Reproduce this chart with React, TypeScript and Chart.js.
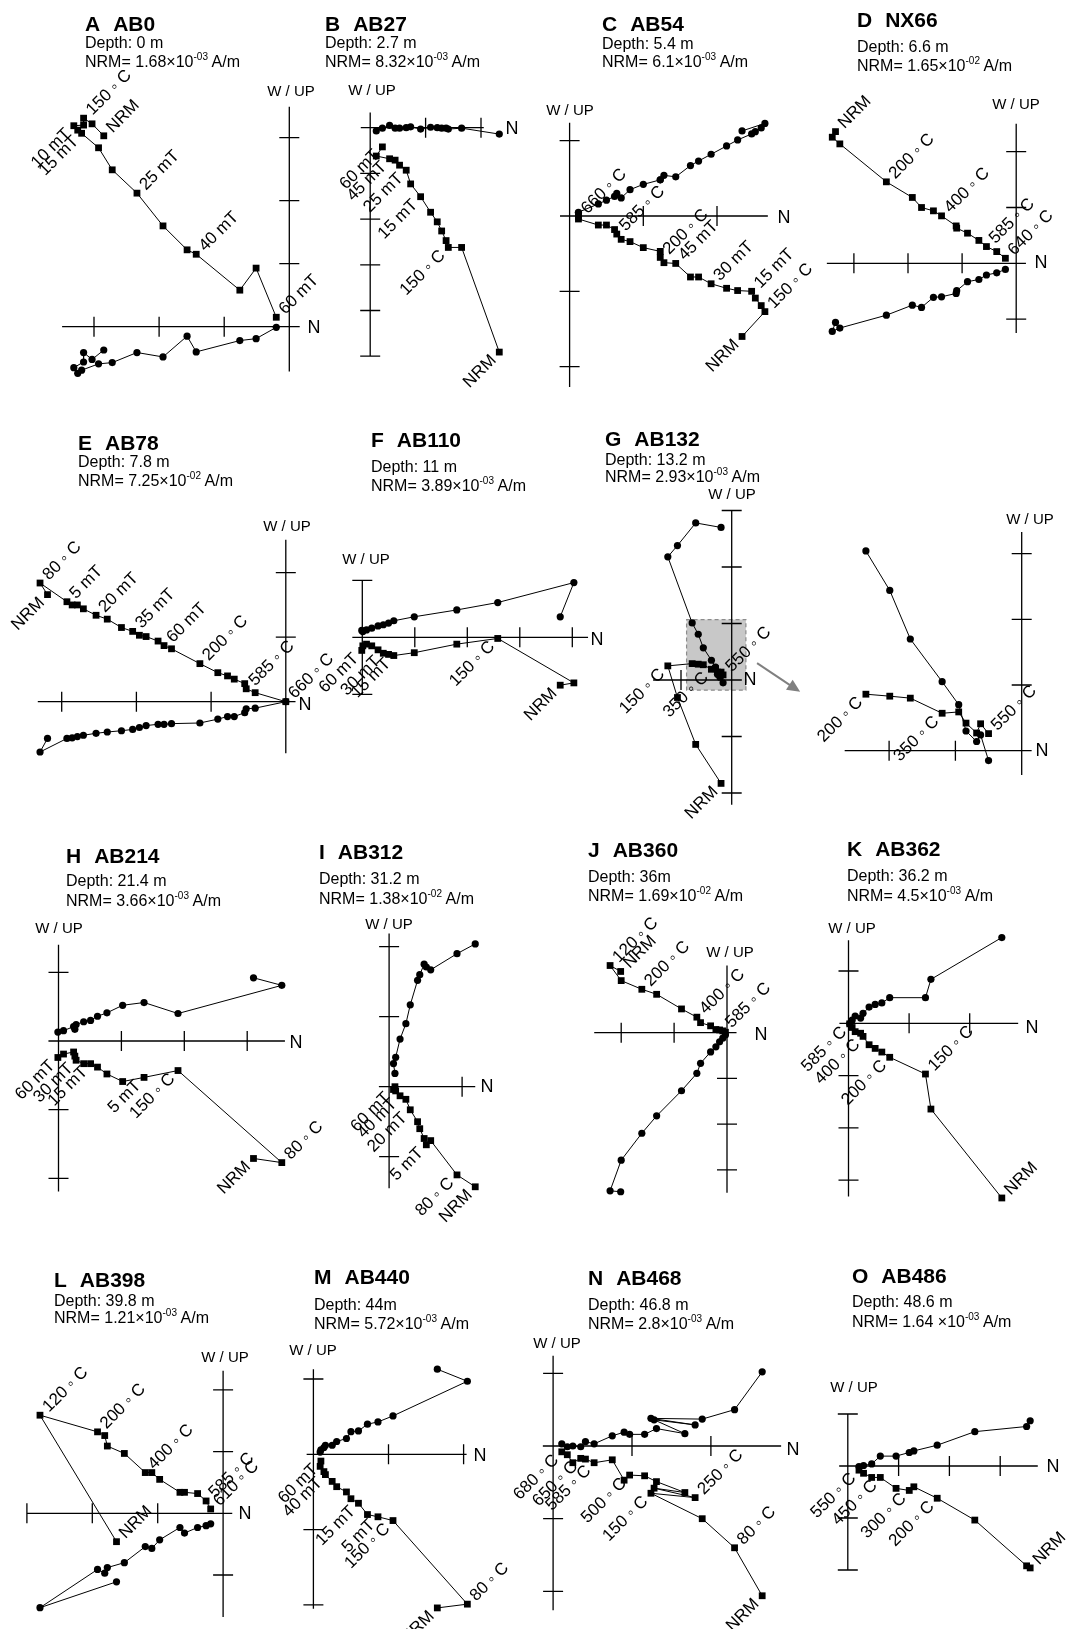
import React, { useEffect, useRef } from "react";
import { Chart, registerables } from "chart.js";

Chart.register(...registerables);

const FONT = '"Liberation Sans", Arial, Helvetica, sans-serif';
const DG = "\u25E6";
type Lbl = [number, string, string];

// ---------- data (tick units; N = north component shared by both projections,
// UP = vertical projection (squares), W = horizontal projection (circles)) ----------
const A_N = [-2.85, -3.03, -3.16, -3.16, -3.31, -3.25, -3.19, -2.93, -2.72, -2.34, -1.94, -1.57, -1.43, -0.76, -0.51, -0.2];
const A_UP = [3.03, 3.22, 3.31, 3.2, 3.19, 3.12, 3.07, 2.84, 2.49, 2.12, 1.6, 1.22, 1.15, 0.58, 0.93, 0.15];
const A_W = [-0.37, -0.52, -0.41, -0.56, -0.65, -0.74, -0.69, -0.59, -0.57, -0.41, -0.48, -0.15, -0.4, -0.22, -0.19, -0.01];
const A_LBL: Lbl[] = [[0, "NRM", "s"], [2, `150 ${DG} C`, "s"], [4, "10 mT", "e"], [6, "15 mT", "e"], [9, "25 mT", "s"], [12, "40 mT", "s"], [15, "60 mT", "s"]];

const B_N = [2.33, 1.65, 1.41, 1.37, 1.29, 1.21, 1.09, 0.91, 0.73, 0.65, 0.53, 0.45, 0.35, 0.11, 0.22];
const B_UP = [-4.91, -2.62, -2.62, -2.47, -2.26, -2.06, -1.85, -1.51, -1.23, -0.93, -0.82, -0.71, -0.68, -0.62, -0.42];
const B_W = [-0.14, -0.01, -0.03, -0.01, -0.01, 0.0, 0.01, -0.03, 0.02, 0.0, -0.01, -0.01, 0.05, -0.07, -0.01];
const B_LBL: Lbl[] = [[0, "NRM", "e"], [2, `150 ${DG} C`, "e"], [7, "15 mT", "e"], [9, "25 mT", "e"], [12, "45 mT", "e"], [14, "60 mT", "e"]];

const C_N = [2.34, 2.65, 2.6, 2.52, 2.47, 2.28, 2.13, 1.92, 1.75, 1.64, 1.44, 1.28, 1.23, 1.23, 1.0, 0.82, 0.7, 0.64, 0.61, 0.5, 0.39, 0.12, 0.12];
const C_UP = [-1.6, -1.27, -1.19, -1.09, -1.0, -0.99, -0.96, -0.9, -0.81, -0.81, -0.63, -0.62, -0.55, -0.47, -0.42, -0.34, -0.31, -0.24, -0.18, -0.12, -0.12, -0.04, -0.01];
const C_W = [1.13, 1.23, 1.17, 1.12, 1.09, 1.01, 0.93, 0.82, 0.73, 0.67, 0.52, 0.54, 0.48, 0.48, 0.42, 0.35, 0.24, 0.3, 0.26, 0.21, 0.16, 0.05, 0.04];
const C_LBL: Lbl[] = [[0, "NRM", "e"], [1, `150 ${DG} C`, "s"], [4, "15 mT", "s"], [7, "30 mT", "s"], [10, "45 mT", "s"], [12, `200 ${DG} C`, "s"], [17, `585 ${DG} C`, "s"], [22, `660 ${DG} C`, "s"]];

const D_N = [-3.34, -3.4, -3.26, -2.4, -1.92, -1.75, -1.53, -1.38, -1.11, -1.1, -0.9, -0.69, -0.55, -0.36, -0.2];
const D_UP = [2.36, 2.26, 2.14, 1.46, 1.18, 1.0, 0.94, 0.85, 0.67, 0.63, 0.54, 0.41, 0.3, 0.21, 0.09];
const D_W = [-1.06, -1.22, -1.16, -0.93, -0.75, -0.79, -0.61, -0.6, -0.54, -0.49, -0.33, -0.29, -0.21, -0.17, -0.11];
const D_LBL: Lbl[] = [[0, "NRM", "s"], [3, `200 ${DG} C`, "s"], [7, `400 ${DG} C`, "s"], [12, `585 ${DG} C`, "s"], [14, `640 ${DG} C`, "s"]];

const E_N = [-3.19, -3.29, -2.93, -2.86, -2.79, -2.71, -2.54, -2.39, -2.2, -2.05, -1.96, -1.87, -1.71, -1.63, -1.53, -1.15, -0.91, -0.78, -0.69, -0.55, -0.53, -0.41, 0];
const E_UP = [1.66, 1.84, 1.55, 1.5, 1.5, 1.44, 1.34, 1.28, 1.15, 1.09, 1.03, 1.01, 0.94, 0.87, 0.82, 0.59, 0.45, 0.4, 0.35, 0.28, 0.2, 0.14, 0];
const E_W = [-0.57, -0.78, -0.57, -0.56, -0.54, -0.52, -0.49, -0.47, -0.45, -0.43, -0.4, -0.37, -0.35, -0.35, -0.34, -0.33, -0.27, -0.23, -0.23, -0.17, -0.11, -0.1, 0];
const E_LBL: Lbl[] = [[0, "NRM", "e"], [1, `80 ${DG} C`, "s"], [2, "5 mT", "s"], [6, "20 mT", "s"], [9, "35 mT", "s"], [13, "60 mT", "s"], [15, `200 ${DG} C`, "s"], [20, `585 ${DG} C`, "s"], [22, `660 ${DG} C`, "s"]];

const F_N = [3.77, 4.03, 2.58, 1.8, 0.99, 0.6, 0.5, 0.4, 0.3, 0.18, 0.08, 0.01, -0.01];
const F_UP = [-0.84, -0.8, -0.02, -0.12, -0.27, -0.32, -0.3, -0.28, -0.22, -0.15, -0.12, -0.15, -0.23];
const F_W = [0.36, 0.96, 0.61, 0.48, 0.36, 0.29, 0.25, 0.22, 0.2, 0.16, 0.13, 0.1, 0.12];
const F_LBL: Lbl[] = [[0, "NRM", "e"], [2, `150 ${DG} C`, "e"], [5, "15 mT", "e"], [7, "30 mT", "e"], [12, "60 mT", "e"]];

const G_N = [-0.21, -0.71, -1.07, -1.26, -0.78, -0.66, -0.56, -0.4, -0.32, -0.28, -0.23, -0.21, -0.17];
const G_UP = [-1.83, -1.14, -0.31, 0.25, 0.29, 0.28, 0.27, 0.19, 0.2, 0.14, 0.09, 0.14, 0.09];
const G_W = [2.7, 2.78, 2.38, 2.18, 1.01, 0.81, 0.57, 0.35, 0.23, 0.1, 0.05, 0.08, -0.05];
const G_LBL: Lbl[] = [[0, "NRM", "e"], [3, `150 ${DG} C`, "e"], [7, `350 ${DG} C`, "e"], [12, `550 ${DG} C`, "s"]];

const G2_N = [-2.35, -1.99, -1.68, -1.2, -0.95, -0.84, -0.68, -0.62, -0.5];
const G2_UP = [0.86, 0.83, 0.8, 0.57, 0.59, 0.42, 0.27, 0.41, 0.26];
const G2_W = [3.04, 2.44, 1.7, 1.05, 0.7, 0.3, 0.14, 0.24, -0.15];
const G2_LBL: Lbl[] = [[0, `200 ${DG} C`, "e"], [3, `350 ${DG} C`, "e"], [8, `550 ${DG} C`, "s"]];

const H_N = [3.1, 3.55, 1.9, 1.36, 1.02, 0.77, 0.62, 0.51, 0.4, 0.28, 0.26, 0.24, 0.08, -0.01];
const H_UP = [-1.71, -1.77, -0.43, -0.53, -0.59, -0.48, -0.38, -0.33, -0.33, -0.28, -0.22, -0.16, -0.19, -0.24];
const H_W = [0.92, 0.81, 0.4, 0.56, 0.52, 0.41, 0.36, 0.3, 0.28, 0.24, 0.17, 0.21, 0.15, 0.13];
const H_LBL: Lbl[] = [[0, "NRM", "e"], [1, `80 ${DG} C`, "s"], [2, `150 ${DG} C`, "e"], [3, "5 mT", "e"], [7, "15 mT", "e"], [9, "30 mT", "e"], [13, "60 mT", "e"]];

const I_N = [1.18, 0.93, 0.57, 0.51, 0.48, 0.42, 0.39, 0.29, 0.23, 0.15, 0.09, 0.06, 0.08];
const I_UP = [-1.43, -1.26, -0.77, -0.83, -0.74, -0.6, -0.5, -0.33, -0.18, -0.13, -0.06, -0.04, 0.0];
const I_W = [2.04, 1.9, 1.67, 1.71, 1.75, 1.6, 1.52, 1.17, 0.9, 0.68, 0.42, 0.33, 0.19];
const I_LBL: Lbl[] = [[0, "NRM", "e"], [1, `80 ${DG} C`, "e"], [3, "5 mT", "e"], [7, "20 mT", "e"], [9, "40 mT", "e"], [11, "60 mT", "e"]];

const J_N = [-2.01, -2.21, -2.0, -1.61, -1.33, -0.86, -0.57, -0.5, -0.31, -0.21, -0.14, -0.08, -0.03];
const J_UP = [1.34, 1.47, 1.14, 0.95, 0.84, 0.52, 0.34, 0.22, 0.15, 0.07, 0.06, 0.04, 0.01];
const J_W = [-3.48, -3.46, -2.79, -2.2, -1.82, -1.27, -0.89, -0.67, -0.42, -0.31, -0.2, -0.12, -0.05];
const J_LBL: Lbl[] = [[0, "NRM", "s"], [1, `120 ${DG} C`, "s"], [3, `200 ${DG} C`, "s"], [6, `400 ${DG} C`, "s"], [11, `585 ${DG} C`, "s"]];

const K_N = [2.53, 1.36, 1.27, 0.68, 0.55, 0.44, 0.34, 0.24, 0.2, 0.11, 0.06, 0.02];
const K_UP = [-3.34, -1.64, -0.97, -0.65, -0.55, -0.48, -0.41, -0.25, -0.19, -0.16, -0.08, -0.01];
const K_W = [1.64, 0.84, 0.49, 0.49, 0.39, 0.36, 0.31, 0.19, 0.1, 0.14, 0.06, -0.01];
const K_LBL: Lbl[] = [[0, "NRM", "s"], [2, `150 ${DG} C`, "s"], [3, `200 ${DG} C`, "e"], [7, `400 ${DG} C`, "e"], [11, `585 ${DG} C`, "e"]];

const L_N = [-1.63, -2.8, -1.92, -1.81, -1.77, -1.51, -1.19, -1.09, -0.97, -0.66, -0.59, -0.39, -0.26, -0.19];
const L_UP = [-0.46, 1.59, 1.32, 1.26, 1.09, 0.97, 0.66, 0.66, 0.55, 0.34, 0.34, 0.32, 0.2, 0.07];
const L_W = [-1.11, -1.53, -0.91, -0.97, -0.88, -0.8, -0.54, -0.57, -0.43, -0.23, -0.32, -0.23, -0.2, -0.17];
const L_LBL: Lbl[] = [[0, "NRM", "s"], [1, `120 ${DG} C`, "s"], [2, `200 ${DG} C`, "s"], [6, `400 ${DG} C`, "s"], [12, `585 ${DG} C`, "s"], [13, `610 ${DG} C`, "s"]];

const M_N = [1.65, 2.05, 1.06, 0.86, 0.72, 0.6, 0.5, 0.44, 0.31, 0.25, 0.16, 0.14, 0.09, 0.1];
const M_UP = [-2.04, -1.99, -0.88, -0.83, -0.8, -0.65, -0.59, -0.5, -0.43, -0.36, -0.27, -0.23, -0.16, -0.09];
const M_W = [1.13, 0.97, 0.51, 0.43, 0.4, 0.31, 0.3, 0.21, 0.17, 0.12, 0.12, 0.09, 0.03, 0.06];
const M_LBL: Lbl[] = [[0, "NRM", "e"], [1, `80 ${DG} C`, "s"], [2, `150 ${DG} C`, "e"], [3, "5 mT", "e"], [5, "15 mT", "e"], [10, "40 mT", "e"], [13, "60 mT", "e"]];

const N_N = [2.65, 2.3, 1.89, 1.24, 1.8, 1.28, 1.67, 1.31, 1.16, 0.97, 0.9, 0.75, 0.52, 0.41, 0.35, 0.25, 0.18, 0.11];
const N_UP = [-2.06, -1.4, -1.0, -0.65, -0.71, -0.58, -0.64, -0.49, -0.41, -0.4, -0.47, -0.19, -0.23, -0.18, -0.17, -0.23, -0.12, -0.08];
const N_W = [1.02, 0.5, 0.37, 0.38, 0.29, 0.36, 0.17, 0.24, 0.16, 0.16, 0.19, 0.14, 0.03, 0.06, -0.01, 0.0, -0.01, 0.03];
const N_LBL: Lbl[] = [[0, "NRM", "e"], [1, `80 ${DG} C`, "s"], [3, `150 ${DG} C`, "e"], [4, `250 ${DG} C`, "s"], [9, `500 ${DG} C`, "e"], [12, `585 ${DG} C`, "e"], [14, `650 ${DG} C`, "e"], [17, `680 ${DG} C`, "e"]];

const O_N = [3.59, 3.52, 2.5, 1.76, 1.3, 1.21, 0.95, 0.64, 0.47, 0.31, 0.22];
const O_UP = [-1.96, -1.92, -1.04, -0.62, -0.4, -0.47, -0.43, -0.22, -0.22, -0.14, -0.08];
const O_W = [0.87, 0.76, 0.66, 0.4, 0.29, 0.26, 0.19, 0.19, 0.04, 0.01, -0.01];
const O_LBL: Lbl[] = [[0, "NRM", "s"], [3, `200 ${DG} C`, "e"], [5, `300 ${DG} C`, "e"], [7, `450 ${DG} C`, "e"], [10, `550 ${DG} C`, "e"]];

// ---------- layout ----------
type Panel = {
  key: string; name?: string; depth?: string; nrm?: string; exp?: string;
  tl?: number; tb?: number[];
  n: number[]; up: number[]; w: number[]; lbl: Lbl[];
  o: number[]; u: number[]; ext: number[]; tx: number[]; ty: number[];
  wup: number[]; nl: number[]; box?: number[]; arrow?: number[];
};

const PANELS: Panel[] = [
  { key: "A", name: "AB0", depth: "Depth: 0 m", nrm: "1.68", exp: "-03", tl: 85, tb: [31, 49, 68],
    n: A_N, up: A_UP, w: A_W, lbl: A_LBL, o: [289.3, 326.7], u: [65.1, 63], ext: [-3.49, 0.16, -0.71, 3.49],
    tx: [-3, -2, -1], ty: [1, 2, 3], wup: [291, 92], nl: [314, 328] },
  { key: "B", name: "AB27", depth: "Depth: 2.7 m", nrm: "8.32", exp: "-03", tl: 325, tb: [31, 49, 68],
    n: B_N, up: B_UP, w: B_W, lbl: B_LBL, o: [370.2, 127.7], u: [55.4, 45.7], ext: [-0.17, 2.05, -5.0, 0.33],
    tx: [1, 2], ty: [-1, -2, -3, -4, -5], wup: [372, 91], nl: [512, 129] },
  { key: "C", name: "AB54", depth: "Depth: 5.4 m", nrm: "6.1", exp: "-03", tl: 602, tb: [31, 50, 68],
    n: C_N, up: C_UP, w: C_W, lbl: C_LBL, o: [569.6, 216], u: [73.7, 75.3], ext: [-0.13, 2.69, -2.27, 1.24],
    tx: [1, 2], ty: [1, -1, -2], wup: [570, 111], nl: [784, 218] },
  { key: "D", name: "NX66", depth: "Depth: 6.6 m", nrm: "1.65", exp: "-02", tl: 857, tb: [27, 53, 72],
    n: D_N, up: D_UP, w: D_W, lbl: D_LBL, o: [1016.2, 263.3], u: [54.1, 55.8], ext: [-3.5, 0.18, -1.25, 2.5],
    tx: [-3, -2, -1], ty: [2, 1, -1], wup: [1016, 105], nl: [1041, 263] },
  { key: "E", name: "AB78", depth: "Depth: 7.8 m", nrm: "7.25", exp: "-02", tl: 78, tb: [450, 468, 487],
    n: E_N, up: E_UP, w: E_W, lbl: E_LBL, o: [285.8, 701.7], u: [74.7, 64.5], ext: [-3.32, 0.13, -0.8, 2.51],
    tx: [-3, -2, -1], ty: [1, 2], wup: [287, 527], nl: [305, 705] },
  { key: "F", name: "AB110", depth: "Depth: 11 m", nrm: "3.89", exp: "-03", tl: 371, tb: [447, 473, 492],
    n: F_N, up: F_UP, w: F_W, lbl: F_LBL, o: [362.3, 637.3], u: [52.5, 57], ext: [-0.19, 4.3, -1.0, 1.0],
    tx: [1, 2, 3, 4], ty: [1, -1], wup: [366, 560], nl: [597, 640] },
  { key: "G", name: "AB132", depth: "Depth: 13.2 m", nrm: "2.93", exp: "-03", tl: 605, tb: [446, 466, 483],
    n: G_N, up: G_UP, w: G_W, lbl: G_LBL, o: [731.7, 680], u: [50.7, 56.5], ext: [-1.55, 0.2, -2.21, 3.0],
    tx: [-1], ty: [3, 2, 1, -1, -2], wup: [732, 495], nl: [750, 680],
    box: [-0.89, 0.28, -0.18, 1.07], arrow: [0.5, 0.3, 1.35, -0.21] },
  { key: "G2",
    n: G2_N, up: G2_UP, w: G2_W, lbl: G2_LBL, o: [1021.7, 750.7], u: [66.3, 65.7], ext: [-2.67, 0.15, -0.37, 3.33],
    tx: [-2, -1], ty: [1, 2, 3], wup: [1030, 520], nl: [1042, 751] },
  { key: "H", name: "AB214", depth: "Depth: 21.4 m", nrm: "3.66", exp: "-03", tl: 66, tb: [863, 887, 907],
    n: H_N, up: H_UP, w: H_W, lbl: H_LBL, o: [58.5, 1041], u: [62.9, 68.7], ext: [-0.16, 3.6, -2.19, 1.4],
    tx: [1, 2, 3], ty: [1, -1, -2], wup: [59, 929], nl: [296, 1043] },
  { key: "I", name: "AB312", depth: "Depth: 31.2 m", nrm: "1.38", exp: "-02", tl: 319, tb: [859, 885, 905],
    n: I_N, up: I_UP, w: I_W, lbl: I_LBL, o: [389.1, 1086.7], u: [73, 70], ext: [-0.14, 1.18, -1.45, 2.19],
    tx: [1], ty: [2, 1, -1], wup: [389, 925], nl: [487, 1087] },
  { key: "J", name: "AB360", depth: "Depth: 36m", nrm: "1.69", exp: "-02", tl: 588, tb: [857, 883, 902],
    n: J_N, up: J_UP, w: J_W, lbl: J_LBL, o: [727, 1032.7], u: [52.9, 45.7], ext: [-2.51, 0.18, -3.5, 1.47],
    tx: [-2, -1], ty: [-1, -2, -3], wup: [730, 953], nl: [761, 1035] },
  { key: "K", name: "AB362", depth: "Depth: 36.2 m", nrm: "4.5", exp: "-03", tl: 847, tb: [856, 882, 902],
    n: K_N, up: K_UP, w: K_W, lbl: K_LBL, o: [848.5, 1023.3], u: [60.6, 52.3], ext: [-0.15, 2.8, -3.31, 1.59],
    tx: [1, 2], ty: [1, -1, -2, -3], wup: [852, 929], nl: [1032, 1028] },
  { key: "L", name: "AB398", depth: "Depth: 39.8 m", nrm: "1.21", exp: "-03", tl: 54, tb: [1287, 1307, 1324],
    n: L_N, up: L_UP, w: L_W, lbl: L_LBL, o: [223.1, 1513.3], u: [65.4, 61.7], ext: [-3.0, 0.14, -1.68, 2.31],
    tx: [-3, -2, -1], ty: [2, 1, -1], wup: [225, 1358], nl: [245, 1514] },
  { key: "M", name: "AB440", depth: "Depth: 44m", nrm: "5.72", exp: "-03", tl: 314, tb: [1284, 1311, 1330],
    n: M_N, up: M_UP, w: M_W, lbl: M_LBL, o: [313.4, 1454.3], u: [75.1, 75.3], ext: [-0.09, 2.04, -2.05, 1.13],
    tx: [1, 2], ty: [1, -1, -2], wup: [313, 1351], nl: [480, 1456] },
  { key: "N", name: "AB468", depth: "Depth: 46.8 m", nrm: "2.8", exp: "-03", tl: 588, tb: [1285, 1311, 1330],
    n: N_N, up: N_UP, w: N_W, lbl: N_LBL, o: [553.1, 1446], u: [78.9, 72.7], ext: [-0.13, 2.89, -2.26, 1.24],
    tx: [1, 2], ty: [1, -1, -2], wup: [557, 1344], nl: [793, 1450] },
  { key: "O", name: "AB486", depth: "Depth: 48.6 m", nrm: "1.64 ", exp: "-03", tl: 852, tb: [1283, 1308, 1328],
    n: O_N, up: O_UP, w: O_W, lbl: O_LBL, o: [847.8, 1466], u: [50.8, 52], ext: [-0.17, 3.74, -2.0, 1.0],
    tx: [1, 2, 3], ty: [1, -1, -2], wup: [854, 1388], nl: [1053, 1467] },
];

const CW = 660;
const CH = 680;

function makePlugin(p: Panel, L: number, T: number) {
  return {
    id: "zij" + p.key,
    beforeDatasetsDraw(chart: any) {
      const ctx = chart.ctx as CanvasRenderingContext2D;
      const X = (v: number) => chart.scales.x.getPixelForValue(v);
      const Y = (v: number) => chart.scales.y.getPixelForValue(v);
      ctx.save();
      if (p.box) {
        const [a, b, c, d] = p.box;
        ctx.fillStyle = "#c8c8c8";
        ctx.fillRect(X(a), Y(d), X(b) - X(a), Y(c) - Y(d));
        ctx.setLineDash([4, 3]);
        ctx.strokeStyle = "#8c8c8c";
        ctx.lineWidth = 1.2;
        ctx.strokeRect(X(a), Y(d), X(b) - X(a), Y(c) - Y(d));
        ctx.setLineDash([]);
      }
      const [x0, x1, y0, y1] = p.ext;
      ctx.strokeStyle = "#000";
      ctx.lineWidth = 1.3;
      ctx.beginPath();
      ctx.moveTo(X(x0), Y(0));
      ctx.lineTo(X(x1), Y(0));
      ctx.moveTo(X(0), Y(y0));
      ctx.lineTo(X(0), Y(y1));
      p.tx.forEach((t) => {
        ctx.moveTo(X(t), Y(0) - 10);
        ctx.lineTo(X(t), Y(0) + 10);
      });
      p.ty.forEach((t) => {
        ctx.moveTo(X(0) - 10, Y(t));
        ctx.lineTo(X(0) + 10, Y(t));
      });
      ctx.stroke();
      ctx.fillStyle = "#000";
      ctx.textAlign = "center";
      ctx.textBaseline = "middle";
      ctx.font = `15px ${FONT}`;
      ctx.fillText("W / UP", p.wup[0] - L, p.wup[1] - T);
      ctx.font = `18px ${FONT}`;
      ctx.fillText("N", p.nl[0] - L, p.nl[1] - T);
      ctx.restore();
    },
    afterDatasetsDraw(chart: any) {
      const ctx = chart.ctx as CanvasRenderingContext2D;
      const X = (v: number) => chart.scales.x.getPixelForValue(v);
      const Y = (v: number) => chart.scales.y.getPixelForValue(v);
      ctx.save();
      ctx.fillStyle = "#000";
      ctx.font = `17px ${FONT}`;
      ctx.textBaseline = "middle";
      p.lbl.forEach(([i, text, side]) => {
        ctx.save();
        ctx.translate(X(p.n[i]), Y(p.up[i]));
        ctx.rotate(-Math.PI / 4);
        ctx.textAlign = side === "s" ? "left" : "right";
        ctx.fillText(text, side === "s" ? 8 : -8, 0);
        ctx.restore();
      });
      if (p.arrow) {
        const [a, b, c, d] = p.arrow;
        const sx = X(a), sy = Y(b), ex = X(c), ey = Y(d);
        const ang = Math.atan2(ey - sy, ex - sx);
        ctx.strokeStyle = "#808080";
        ctx.fillStyle = "#808080";
        ctx.lineWidth = 2;
        ctx.beginPath();
        ctx.moveTo(sx, sy);
        ctx.lineTo(ex - 10 * Math.cos(ang), ey - 10 * Math.sin(ang));
        ctx.stroke();
        ctx.beginPath();
        ctx.moveTo(ex, ey);
        ctx.lineTo(ex - 13 * Math.cos(ang) + 6 * Math.sin(ang), ey - 13 * Math.sin(ang) - 6 * Math.cos(ang));
        ctx.lineTo(ex - 13 * Math.cos(ang) - 6 * Math.sin(ang), ey - 13 * Math.sin(ang) + 6 * Math.cos(ang));
        ctx.closePath();
        ctx.fill();
      }
      ctx.restore();
    },
  };
}

function Zij({ p }: { p: Panel }) {
  const ref = useRef<HTMLCanvasElement>(null);
  const L = Math.round(p.o[0] - CW / 2);
  const T = Math.round(p.o[1] - CH / 2);
  useEffect(() => {
    const canvas = ref.current;
    if (!canvas) return;
    const [ox, oy] = p.o;
    const [ux, uy] = p.u;
    const common = {
      showLine: true,
      borderColor: "#000",
      borderWidth: 1,
      tension: 0,
      pointBackgroundColor: "#000",
      pointBorderColor: "#000",
      pointBorderWidth: 0,
      clip: false as any,
    };
    const chart = new Chart(canvas, {
      type: "scatter",
      data: {
        datasets: [
          { ...common, data: p.n.map((x, i) => ({ x, y: p.w[i] })), pointStyle: "circle", pointRadius: 3.6 },
          { ...common, data: p.n.map((x, i) => ({ x, y: p.up[i] })), pointStyle: "rect", pointRadius: 4.8 },
        ],
      },
      options: {
        responsive: false,
        animation: false,
        events: [],
        layout: { padding: 0, autoPadding: false },
        plugins: { legend: { display: false }, tooltip: { enabled: false }, title: { display: false } },
        scales: {
          x: { type: "linear", display: false, min: (L - ox) / ux, max: (L + CW - ox) / ux },
          y: { type: "linear", display: false, min: (oy - T - CH) / uy, max: (oy - T) / uy },
        },
      } as any,
      plugins: [makePlugin(p, L, T)],
    });
    return () => chart.destroy();
  }, []);
  return (
    <canvas
      ref={ref}
      width={CW}
      height={CH}
      style={{ position: "absolute", left: L, top: T, width: CW, height: CH }}
    />
  );
}

function Title({ p }: { p: Panel }) {
  const tb = p.tb as number[];
  const base = { position: "absolute" as const, left: p.tl, whiteSpace: "pre" as const, color: "#000", fontFamily: FONT };
  return (
    <>
      <div style={{ ...base, top: tb[0] - 0.8465 * 21, fontSize: 21, lineHeight: "21px", fontWeight: "bold" }}>
        <span>{p.key}</span>
        <span style={{ marginLeft: 13 }}>{p.name}</span>
      </div>
      <div style={{ ...base, top: tb[1] - 0.8465 * 16, fontSize: 16, lineHeight: "16px" }}>{p.depth}</div>
      <div style={{ ...base, top: tb[2] - 0.8465 * 16, fontSize: 16, lineHeight: "16px" }}>
        {"NRM= " + p.nrm + "\u00D710"}
        <span style={{ fontSize: 10, position: "relative", top: -7 }}>{p.exp}</span>
        {" A/m"}
      </div>
    </>
  );
}

export default function App() {
  return (
    <div
      style={{
        position: "absolute",
        left: 0,
        top: 0,
        width: 1069,
        height: 1629,
        overflow: "hidden",
        background: "#fff",
      }}
    >
      {PANELS.map((p) => (
        <Zij key={p.key} p={p} />
      ))}
      {PANELS.filter((p) => p.name).map((p) => (
        <Title key={"t" + p.key} p={p} />
      ))}
    </div>
  );
}
